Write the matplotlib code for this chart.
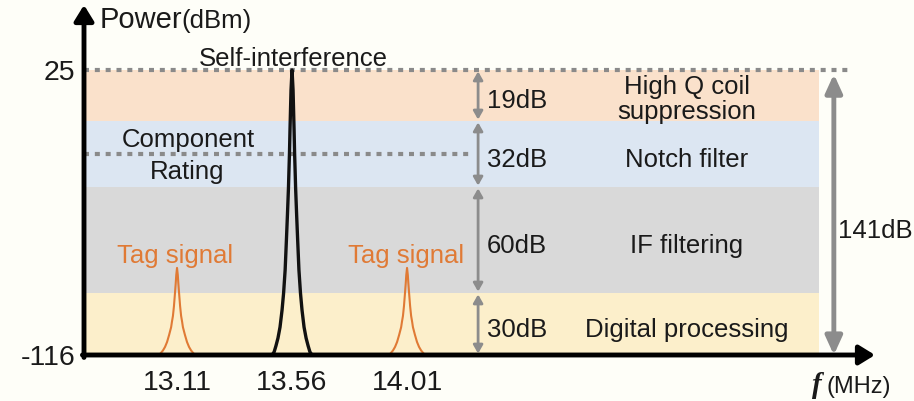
import matplotlib.pyplot as plt
import numpy as np

plt.rcParams['font.family'] = ['Liberation Sans', 'DejaVu Sans']

# carrier and tag frequencies (MHz)
freqs = [13.11, 13.56, 14.01]
tick_labels = ['13.11', '13.56', '14.01']
tag_freqs = [13.11, 14.01]
carrier_freq = 13.56

# power levels (dBm) and suppression budget
band_edges = [-116, -86, -26, 6, 25]
band_db = ['30dB', '60dB', '32dB', '19dB']
band_names = ['Digital processing', 'IF filtering', 'Notch filter', 'High Q coil\nsuppression']
band_colors = ['#FCEFCB', '#D9D9D9', '#DCE6F2', '#FAE1CB']
total_db = '141dB'
self_int_dbm = 25
component_rating_dbm = -10

# peak profiles (offset from centre in MHz, level in dBm)
si_offset = [0, 0.004, 0.008, 0.010, 0.012, 0.014, 0.018, 0.022, 0.027, 0.033, 0.039, 0.047, 0.055, 0.063, 0.070, 0.078]
si_level = [25, 17.5, 1.6, -9.5, -17.8, -26.6, -41.8, -56.0, -73.0, -86.0, -94.2, -102.5, -107.8, -111.6, -114.5, -116]
tag_offset = [0, 0.003, 0.005, 0.008, 0.012, 0.016, 0.020, 0.023, 0.031, 0.039, 0.047, 0.055, 0.063, 0.070]
tag_level = [-71.8, -75.8, -80.3, -86.0, -92.3, -97.1, -100.0, -102.5, -106.3, -109.7, -112.1, -113.8, -115.0, -116]

# schematic (non linear) power axis: dBm -> drawing height
knots_dbm = [-150, -116, -86, -26, 6, 25, 60]
knots_lvl = [-70, 0, 62, 168, 234, 285, 379]
def fwd(v):
    return np.interp(v, knots_dbm, knots_lvl)
def inv(v):
    return np.interp(v, knots_lvl, knots_dbm)

bg = '#FEFEF8'
grey = '#8C8C8C'
orange = '#E07A35'
ink = '#1A1A1A'
W, H = 914, 401

fig = plt.figure(figsize=(W/100, H/100), dpi=100, facecolor=bg)
ax = fig.add_axes([84/W, 46/H, 791/W, 350/H])
ax.set_facecolor('none')
ax.set_yscale('function', functions=(fwd, inv))
ax.set_xlim(12.746, 15.841)
ax.set_ylim(-116, 49.2)
for s in ax.spines.values():
    s.set_visible(False)

# bands
band_right = 15.62
for i in range(len(band_colors)):
    ax.fill_between([12.746, band_right], band_edges[i], band_edges[i+1], color=band_colors[i], lw=0, zorder=0)

# dotted reference lines
ax.plot([12.746, 15.74], [self_int_dbm, self_int_dbm], color='#8A8A8A', lw=3, ls=(0, (1.2, 1.4)), zorder=1)
ax.plot([12.746, 14.26], [component_rating_dbm, component_rating_dbm], color='#8A8A8A', lw=3, ls=(0, (1.2, 1.4)), zorder=1)

# peaks
def mirror(c, off, lev):
    off = np.array(off)
    lev = np.array(lev)
    return np.concatenate([c - off[::-1], c + off[1:]]), np.concatenate([lev[::-1], lev[1:]])

x, y = mirror(carrier_freq, si_offset, si_level)
ax.plot(x, y, color='#111111', lw=2.4, zorder=3, solid_joinstyle='round')
for f in tag_freqs:
    x, y = mirror(f, tag_offset, tag_level)
    ax.plot(x, y, color=orange, lw=1.5, zorder=3, solid_joinstyle='round')

# small double arrows for each band
arr_x = 14.288
for i in range(len(band_db)):
    ax.annotate('', xy=(arr_x, band_edges[i+1]), xytext=(arr_x, band_edges[i]),
                arrowprops=dict(arrowstyle='<|-|>,head_length=0.35,head_width=0.2', mutation_scale=14,
                                color=grey, lw=2, shrinkA=1, shrinkB=1), zorder=4)

# total arrow
ax.annotate('', xy=(15.68, band_edges[-1]), xytext=(15.68, band_edges[0]),
            arrowprops=dict(arrowstyle='<|-|>,head_length=0.55,head_width=0.25', mutation_scale=20,
                            color=grey, lw=3.5, shrinkA=0, shrinkB=3), zorder=4)

# axes arrows
ax.annotate('', xy=(0, 1), xytext=(0, -0.007), xycoords='axes fraction',
            arrowprops=dict(arrowstyle='-|>,head_length=0.47,head_width=0.29', mutation_scale=20,
                            color='black', lw=3.5, shrinkA=0, shrinkB=0), zorder=6)
ax.annotate('', xy=(1, 0), xytext=(-0.002, 0), xycoords='axes fraction',
            arrowprops=dict(arrowstyle='-|>,head_length=0.47,head_width=0.29', mutation_scale=20,
                            color='black', lw=3.5, shrinkA=0, shrinkB=0), zorder=6)

ax.set_xticks(freqs)
ax.set_xticklabels(tick_labels)
ax.set_yticks([band_edges[-1], band_edges[0]])
ax.set_yticklabels([str(band_edges[-1]), str(band_edges[0])])
ax.yaxis.set_minor_locator(plt.NullLocator())
ax.tick_params(axis='x', length=0, pad=11, labelsize=20.5, labelcolor=ink)
ax.tick_params(axis='y', length=0, pad=6, labelsize=20.5, labelcolor=ink)

def t(x, y, s, **kw):
    kw.setdefault('fontsize', 18.5)
    kw.setdefault('color', ink)
    kw.setdefault('va', 'baseline')
    fig.text(x/W, 1 - y/H, s, **kw)

t(100, 28, 'Power', fontsize=21)
t(181, 28, '(dBm)', fontsize=18.5)
t(293, 66, 'Self-interference', ha='center')
t(188, 147, 'Component', ha='center')
t(187, 179, 'Rating', ha='center')
for xp in [175, 406]:
    t(xp, 263, 'Tag signal', ha='center', color=orange)

db_base = [337, 253, 167, 108]
for i in range(len(band_db)):
    t(487, db_base[i], band_db[i])
names = band_names[3].split('\n')
t(686.5, 337, band_names[0], ha='center')
t(686.5, 253, band_names[1], ha='center')
t(686.5, 167, band_names[2], ha='center')
t(686.5, 94, names[0], ha='center')
t(686.5, 119, names[1], ha='center')
t(838, 238, total_db)
t(812, 393, 'f', family='Liberation Serif', fontweight='bold', style='italic', fontsize=21)
t(827, 393, '(MHz)', fontsize=17)

fig.savefig('out.png', dpi=100, facecolor=bg)
